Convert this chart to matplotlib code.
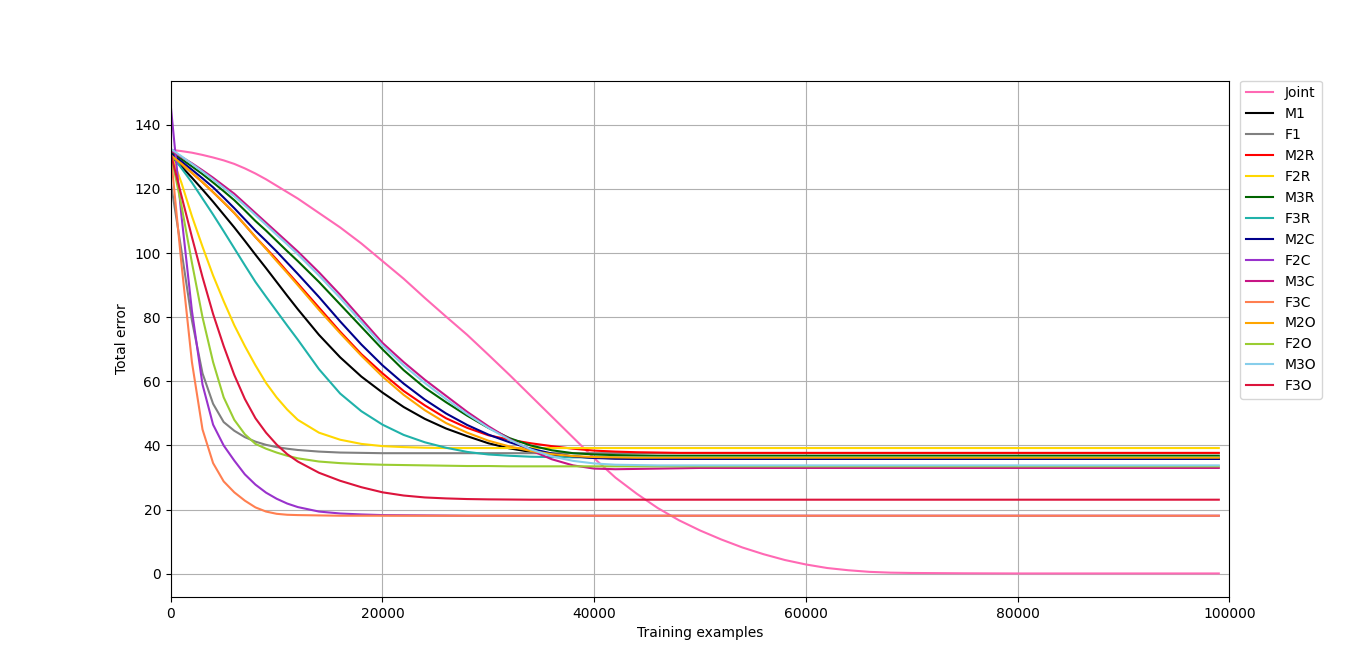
import numpy as np
import matplotlib
matplotlib.use('Agg')
import matplotlib.pyplot as plt

# training examples (thousands)
x_k = [0, 1, 2, 3, 4, 5, 6, 7, 8, 9, 10, 11, 12,
       14, 16, 18, 20, 22, 24, 26, 28, 30, 32, 34, 36, 38, 40,
       42, 44, 46, 48, 50, 52, 54, 56, 58, 60, 62, 64, 66, 68, 70,
       75, 80, 90, 99]

joint = [132.2, 131.8, 131.3, 130.6, 129.8, 128.9, 127.8, 126.4, 124.8, 123.0, 121.0, 119.0, 117.0,
         112.5, 108.0, 103.0, 97.5, 92.0, 86.0, 80.2, 74.5, 68.3, 62.0, 55.5, 49.0, 42.5, 36.0,
         30.0, 25.0, 20.5, 16.7, 13.5, 10.7, 8.2, 6.1, 4.3, 2.9, 1.8, 1.1, 0.6, 0.35, 0.25,
         0.15, 0.1, 0.1, 0.1]
m1 = [130.0, 127.0, 123.5, 119.8, 116.0, 112.0, 108.0, 103.8, 99.5, 95.3, 91.0, 86.7, 82.5,
      74.5, 67.5, 61.5, 56.5, 52.0, 48.3, 45.3, 42.9, 40.7, 39.1, 38.0, 37.2, 36.6, 36.2,
      36.0, 36.0, 35.9, 35.9, 35.9, 35.9, 35.9, 35.9, 35.9, 35.9, 35.9, 35.9, 35.9, 35.9, 35.9,
      35.9, 35.9, 35.9, 35.9]
f1 = [122.0, 101.0, 79.0, 62.5, 53.0, 47.3, 44.6, 42.6, 41.2, 40.2, 39.5, 39.0, 38.6,
      38.1, 37.8, 37.7, 37.6, 37.6, 37.6, 37.6, 37.6, 37.6, 37.6, 37.6, 37.6, 37.6, 37.6,
      37.6, 37.6, 37.6, 37.6, 37.6, 37.6, 37.6, 37.6, 37.6, 37.6, 37.6, 37.6, 37.6, 37.6, 37.6,
      37.6, 37.6, 37.6, 37.6]
m2r = [130.5, 127.9, 125.0, 122.1, 119.0, 115.8, 112.5, 108.8, 105.0, 101.5, 98.0, 94.2, 90.5,
       83.0, 75.5, 68.5, 62.5, 57.0, 52.5, 48.5, 45.5, 43.2, 41.8, 40.7, 39.8, 39.0, 38.4,
       38.1, 37.9, 37.8, 37.7, 37.7, 37.7, 37.7, 37.7, 37.7, 37.7, 37.7, 37.7, 37.7, 37.7, 37.7,
       37.7, 37.7, 37.7, 37.7]
f2r = [131.0, 122.0, 111.5, 102.0, 93.0, 85.0, 77.5, 71.0, 65.0, 59.5, 55.0, 51.2, 48.0,
       44.0, 41.8, 40.5, 39.8, 39.5, 39.3, 39.2, 39.2, 39.2, 39.2, 39.2, 39.2, 39.2, 39.2,
       39.2, 39.2, 39.2, 39.2, 39.2, 39.2, 39.2, 39.2, 39.2, 39.2, 39.2, 39.2, 39.2, 39.2, 39.2,
       39.2, 39.2, 39.2, 39.2]
m3r = [131.5, 129.3, 127.0, 124.6, 122.0, 119.3, 116.5, 113.3, 110.0, 107.0, 103.8, 100.6, 97.5,
       91.0, 84.0, 77.0, 70.0, 63.5, 58.0, 53.5, 49.3, 45.5, 42.3, 40.0, 38.5, 37.6, 37.2,
       37.0, 36.9, 36.8, 36.8, 36.8, 36.8, 36.8, 36.8, 36.8, 36.8, 36.8, 36.8, 36.8, 36.8, 36.8,
       36.8, 36.8, 36.8, 36.8]
f3r = [131.0, 126.5, 122.0, 117.0, 112.0, 106.8, 101.5, 96.2, 91.0, 86.4, 81.9, 77.4, 73.0,
       63.8, 56.2, 50.7, 46.5, 43.3, 41.0, 39.3, 38.0, 37.2, 36.8, 36.5, 36.4, 36.3, 36.3,
       36.3, 36.3, 36.3, 36.3, 36.3, 36.3, 36.3, 36.3, 36.3, 36.3, 36.3, 36.3, 36.3, 36.3, 36.3,
       36.3, 36.3, 36.3, 36.3]
m2c = [131.0, 128.6, 126.0, 123.3, 120.5, 117.3, 114.0, 110.5, 107.0, 103.8, 100.5, 97.0, 93.5,
       86.3, 78.7, 71.5, 65.0, 59.3, 54.3, 50.0, 46.4, 43.4, 41.0, 39.0, 37.5, 36.6, 36.1,
       35.9, 35.8, 35.8, 35.8, 35.8, 35.8, 35.8, 35.8, 35.8, 35.8, 35.8, 35.8, 35.8, 35.8, 35.8,
       35.8, 35.8, 35.8, 35.8]
f2c = [146.0, 112.0, 82.0, 59.0, 46.5, 40.0, 35.3, 31.0, 27.8, 25.3, 23.4, 21.9, 20.8,
       19.4, 18.8, 18.5, 18.3, 18.25, 18.2, 18.15, 18.1, 18.1, 18.1, 18.1, 18.1, 18.1, 18.1,
       18.1, 18.1, 18.1, 18.1, 18.1, 18.1, 18.1, 18.1, 18.1, 18.1, 18.1, 18.1, 18.1, 18.1, 18.1,
       18.1, 18.1, 18.1, 18.1]
m3c = [132.0, 130.0, 128.0, 125.8, 123.5, 121.0, 118.5, 115.5, 112.5, 109.5, 106.5, 103.5, 100.5,
       94.0, 87.0, 79.5, 72.0, 66.0, 60.5, 55.5, 50.5, 46.0, 42.0, 38.5, 35.7, 33.8, 32.8,
       32.6, 32.7, 32.8, 32.9, 33.0, 33.0, 33.0, 33.0, 33.0, 33.0, 33.0, 33.0, 33.0, 33.0, 33.0,
       33.0, 33.0, 33.0, 33.0]
f3c = [131.0, 97.0, 66.0, 45.0, 34.5, 28.8, 25.4, 22.8, 20.7, 19.4, 18.7, 18.4, 18.3,
       18.2, 18.1, 18.1, 18.1, 18.1, 18.1, 18.1, 18.1, 18.1, 18.1, 18.1, 18.1, 18.1, 18.1,
       18.1, 18.1, 18.1, 18.1, 18.1, 18.1, 18.1, 18.1, 18.1, 18.1, 18.1, 18.1, 18.1, 18.1, 18.1,
       18.1, 18.1, 18.1, 18.1]
m2o = [130.5, 127.9, 125.0, 122.1, 119.0, 115.8, 112.5, 108.8, 105.0, 101.3, 97.5, 93.8, 90.0,
       82.3, 75.0, 68.0, 61.5, 55.8, 51.0, 47.0, 44.0, 41.5, 39.7, 38.3, 37.3, 36.7, 36.4,
       36.3, 36.2, 36.2, 36.2, 36.2, 36.2, 36.2, 36.2, 36.2, 36.2, 36.2, 36.2, 36.2, 36.2, 36.2,
       36.2, 36.2, 36.2, 36.2]
f2o = [131.0, 115.0, 97.0, 80.0, 66.0, 55.0, 48.0, 43.5, 40.5, 39.0, 37.8, 36.8, 36.0,
       35.0, 34.5, 34.2, 34.0, 33.9, 33.8, 33.7, 33.6, 33.6, 33.5, 33.5, 33.5, 33.5, 33.5,
       33.5, 33.5, 33.5, 33.5, 33.5, 33.5, 33.5, 33.5, 33.5, 33.5, 33.5, 33.5, 33.5, 33.5, 33.5,
       33.5, 33.5, 33.5, 33.5]
m3o = [132.5, 130.2, 127.8, 125.4, 122.9, 120.3, 117.7, 114.8, 111.8, 108.8, 105.7, 102.7, 99.6,
       93.0, 86.0, 78.5, 71.2, 65.0, 59.5, 54.5, 49.8, 45.5, 41.8, 38.8, 36.6, 35.2, 34.4,
       34.0, 33.9, 33.8, 33.8, 33.8, 33.8, 33.8, 33.8, 33.8, 33.8, 33.8, 33.8, 33.8, 33.8, 33.8,
       33.8, 33.8, 33.8, 33.8]
f3o = [131.0, 118.0, 105.0, 92.5, 81.0, 71.0, 62.0, 54.5, 48.5, 44.0, 40.3, 37.3, 35.0,
       31.5, 29.0, 27.0, 25.4, 24.4, 23.8, 23.5, 23.3, 23.2, 23.15, 23.1, 23.1, 23.1, 23.1,
       23.1, 23.1, 23.1, 23.1, 23.1, 23.1, 23.1, 23.1, 23.1, 23.1, 23.1, 23.1, 23.1, 23.1, 23.1,
       23.1, 23.1, 23.1, 23.1]

labels = ['Joint', 'M1', 'F1', 'M2R', 'F2R', 'M3R', 'F3R', 'M2C', 'F2C', 'M3C',
          'F3C', 'M2O', 'F2O', 'M3O', 'F3O']
series = [joint, m1, f1, m2r, f2r, m3r, f3r, m2c, f2c, m3c, f3c, m2o, f2o, m3o, f3o]
colors = ['hotpink', 'black', 'gray', 'red', 'gold', 'darkgreen', 'lightseagreen',
          'darkblue', 'darkorchid', 'mediumvioletred', 'coral', 'orange',
          'yellowgreen', 'skyblue', 'crimson']

x = np.array(x_k) * 1000

fig = plt.figure(figsize=(13.66, 6.71), dpi=100)
ax = fig.add_subplot(111)
for y, lab, c in zip(series, labels, colors):
    ax.plot(x, y, '-', color=c, label=lab)
ax.set_xlim(0, 100000)
ax.set_ylim(-7.3, 153.8)
ax.set_xlabel('Training examples')
ax.set_ylabel('Total error')
ax.grid(True)
ax.legend(loc='upper left', bbox_to_anchor=(1.01, 1.0), borderaxespad=0)
fig.savefig('out.png', dpi=100)
